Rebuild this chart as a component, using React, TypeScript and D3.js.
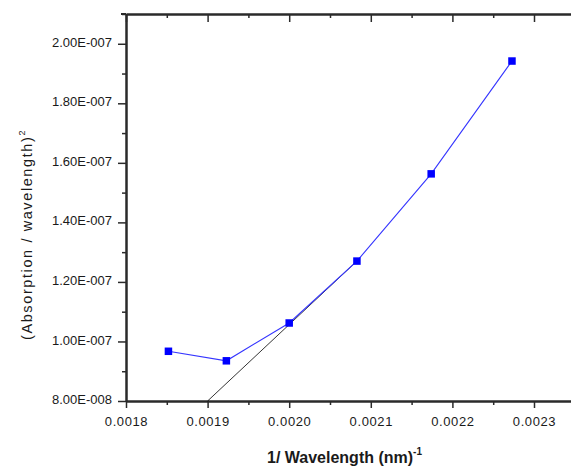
import React, { useEffect, useRef } from 'react';
import * as d3 from 'd3';

// 1/wavelength (nm^-1) for 540, 520, 500, 480, 460, 440 nm
const invWavelength = [0.001852, 0.001923, 0.002, 0.002083, 0.002174, 0.002273];
const absorption2 = [9.67e-8, 9.35e-8, 1.062e-7, 1.27e-7, 1.563e-7, 1.942e-7];
// fitted straight line (black)
const fitX = [0.0019, 0.002083];
const fitY = [8.0e-8, 1.27e-7];

const xTicks = [0.0018, 0.0019, 0.002, 0.0021, 0.0022, 0.0023];
const yTicks = [8e-8, 1e-7, 1.2e-7, 1.4e-7, 1.6e-7, 1.8e-7, 2e-7];

const W = 571;
const H = 466;
const FONT = '"Liberation Sans", Arial, sans-serif';

const sci = (d: number) => {
  const e = Math.floor(Math.log10(d) + 1e-9);
  const m = d / Math.pow(10, e);
  const sign = e < 0 ? '-' : '+';
  return `${m.toFixed(2)}E${sign}${String(Math.abs(e)).padStart(3, '0')}`;
};

const App = () => {
  const ref = useRef<SVGSVGElement>(null);

  useEffect(() => {
    const svg = d3.select(ref.current);
    svg.selectAll('*').remove();

    const left = 126, right = 574.8, top = 14, bottom = 401;
    const x = d3.scaleLinear().domain([0.0018, 0.00235]).range([left, right]);
    const y = d3.scaleLinear().domain([8e-8, 2.1e-7]).range([bottom, top]);

    const axisColor = '#2a2a2a';

    // minor ticks
    const xMinor = d3.range(0.00185, 0.00235, 0.0001);
    const yMinor = d3.range(9e-8, 2.1e-7, 2e-8);

    const gx = svg.append('g').attr('transform', `translate(0,${bottom})`)
      .call(d3.axisBottom(x).tickValues(xTicks).tickSize(7).tickSizeOuter(0).tickPadding(6)
        .tickFormat(d => d3.format('.4f')(d as number)));
    svg.append('g').attr('transform', `translate(0,${bottom})`)
      .call(d3.axisBottom(x).tickValues(xMinor).tickSize(4).tickSizeOuter(0).tickFormat(() => ''));

    const gy = svg.append('g').attr('transform', `translate(${left},0)`)
      .call(d3.axisLeft(y).tickValues(yTicks).tickSize(8).tickSizeOuter(0).tickPadding(6)
        .tickFormat(d => sci(d as number)));
    svg.append('g').attr('transform', `translate(${left},0)`)
      .call(d3.axisLeft(y).tickValues(yMinor).tickSize(4).tickSizeOuter(0).tickFormat(() => ''));

    svg.append('g').attr('transform', `translate(0,${top})`)
      .call(d3.axisTop(x).tickValues(xTicks).tickSize(-8).tickSizeOuter(0).tickFormat(() => ''));
    svg.append('g').attr('transform', `translate(0,${top})`)
      .call(d3.axisTop(x).tickValues(xMinor).tickSize(-4).tickSizeOuter(0).tickFormat(() => ''));

    svg.selectAll('.domain').attr('stroke', axisColor).attr('stroke-width', 2);
    svg.selectAll('.tick line').attr('stroke', axisColor).attr('stroke-width', 1.5);
    svg.selectAll('.tick text').attr('fill', '#1a1a1a').style('font-family', FONT).style('font-size', '13px');
    gx.selectAll('.tick text').attr('dy', '0.95em').style('letter-spacing', '0.6px');
    gy.selectAll('.tick text').attr('dy', '0.2em').style('letter-spacing', '0px');

    // extend top line a bit to the left of the y axis
    svg.append('line').attr('x1', left - 5).attr('x2', left).attr('y1', top).attr('y2', top)
      .attr('stroke', axisColor).attr('stroke-width', 2);

    // fit line
    svg.append('path')
      .datum(fitX.map((v, i) => [v, fitY[i]] as [number, number]))
      .attr('fill', 'none').attr('stroke', '#000').attr('stroke-width', 0.8)
      .attr('d', d3.line<[number, number]>().x(d => x(d[0])).y(d => y(d[1])));

    const pts = invWavelength.map((v, i) => [v, absorption2[i]] as [number, number]);
    svg.append('path')
      .datum(pts)
      .attr('fill', 'none').attr('stroke', '#3535ff').attr('stroke-width', 1.1)
      .attr('d', d3.line<[number, number]>().x(d => x(d[0])).y(d => y(d[1])));

    svg.append('g').selectAll('rect').data(pts).enter().append('rect')
      .attr('x', d => x(d[0]) - 3.75).attr('y', d => y(d[1]) - 3.75)
      .attr('width', 7.5).attr('height', 7.5).attr('fill', '#0000ff');

    // axis titles
    const xt = svg.append('text').attr('x', 267).attr('y', 463)
      .style('font-family', FONT).style('font-size', '16px').style('font-weight', 'bold')
      .attr('fill', '#1a1a1a');
    xt.append('tspan').text('1/ Wavelength (nm)');
    xt.append('tspan').attr('dy', -8).style('font-size', '10px').text('-1');

    const yt = svg.append('text')
      .attr('transform', `translate(32,340) rotate(-90)`)
      .style('font-family', FONT).style('font-size', '14.5px')
      .style('letter-spacing', '1.6px').attr('fill', '#1a1a1a');
    yt.append('tspan').text('(Absorption / wavelength)');
    yt.append('tspan').attr('dy', -7).style('font-size', '9px').text('2');
  }, []);

  return (
    <svg ref={ref} width={W} height={H}
      style={{ position: 'absolute', left: 0, top: 0, background: '#fff' }} />
  );
};

export default App;
